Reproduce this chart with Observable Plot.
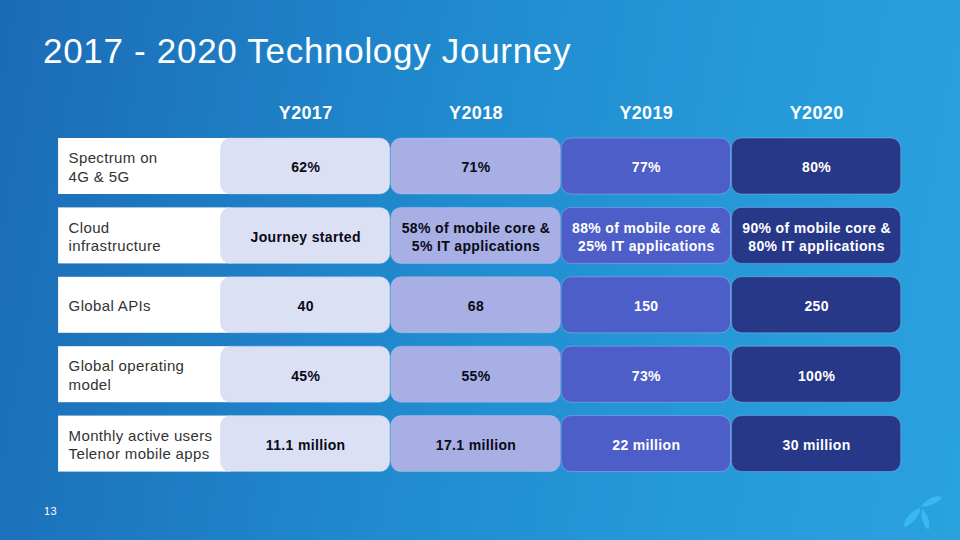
<!DOCTYPE html>
<html>
<head>
<meta charset="utf-8">
<script src="https://cdn.jsdelivr.net/npm/d3@7"></script>
<script src="https://cdn.jsdelivr.net/npm/@observablehq/plot@0.6"></script>
<style>
  html, body { margin: 0; padding: 0; }
  body { width: 960px; height: 540px; overflow: hidden; font-family: "Liberation Sans", Arial, sans-serif; }
  #page { position: relative; width: 960px; height: 540px;
    background: linear-gradient(100deg, #1b6bb5 0%, #208bcf 45%, #269ad9 75%, #2aa2de 100%); }
  #title { height: 92px; margin: 0; padding: 0; position: relative; }
  #title h1 { position: absolute; left: 43px; top: 31px; margin: 0; font-weight: normal;
    font-size: 35px; color: #ffffff; font-family: "Liberation Sans", Arial, sans-serif; letter-spacing: 0.7px; }
  #chart svg { display: block; }
  #chart svg text { letter-spacing: 0.35px; }
  #logo { position: absolute; left: 898px; top: 486px; }
</style>
</head>
<body>
<div id="page">
  <div id="title"><h1>2017 - 2020 Technology Journey</h1></div>
  <div id="chart"></div>
  <svg id="logo" width="48" height="48" viewBox="0 0 44 44">
    <path d="M6 38 C4 33 10 24 20 20 C22 24 14 34 6 38 Z" fill="#3ab8f2"/>
    <path d="M21 19 C26 12 35 8 40 10 C39 14 30 19 21 19 Z" fill="#3ab8f2"/>
    <path d="M22 21 C27 25 30 34 28 40 C24 38 20 28 22 21 Z" fill="#3ab8f2"/>
  </svg>
</div>
<script>
const years = ["Y2017", "Y2018", "Y2019", "Y2020"];
const rowLabels = [
  "Spectrum on\n4G & 5G",
  "Cloud\ninfrastructure",
  "Global APIs",
  "Global operating\nmodel",
  "Monthly active users\nTelenor mobile apps"
];
const spectrum = ["62%", "71%", "77%", "80%"];
const cloud = ["Journey started", "58% of mobile core &\n5% IT applications", "88% of mobile core &\n25% IT applications", "90% of mobile core &\n80% IT applications"];
const apis = ["40", "68", "150", "250"];
const operatingModel = ["45%", "55%", "73%", "100%"];
const activeUsers = ["11.1 million", "17.1 million", "22 million", "30 million"];
const pageNumber = "13";

const yearFill = ["#dce0f4", "#a7afe4", "#4d5ec8", "#273889"];
const yearText = ["#0a0a14", "#0a0a14", "#ffffff", "#ffffff"];
const rowsValues = [spectrum, cloud, apis, operatingModel, activeUsers];

const cells = [];
rowsValues.forEach((vals, r) => vals.forEach((v, c) => cells.push({row: r, col: c, value: v})));
const labels = rowLabels.map((l, r) => ({row: r, label: l}));
const headers = years.map((y, c) => ({col: c, year: y}));

const H = 0.807; // cell height in row units
const chart = Plot.plot({
  width: 960,
  height: 448,
  margin: 0,
  style: {background: "transparent", fontFamily: "'Liberation Sans', Arial, sans-serif", overflow: "visible"},
  x: {domain: [-1.292, 4.345], axis: null},
  y: {domain: [-0.663, 5.793], reverse: true, axis: null},
  marks: [
    Plot.rect(labels, {x1: -0.951, x2: 0.06, y1: d => d.row, y2: d => d.row + H, fill: "#ffffff"}),
    Plot.rect(cells, {x1: d => d.col, x2: d => d.col + 1, y1: d => d.row, y2: d => d.row + H,
      fill: d => yearFill[d.col], rx: 10, ry: 10, insetLeft: 0.5, insetRight: 0.5,
      stroke: "#c8d0f0", strokeOpacity: 0.35, strokeWidth: 1}),
    Plot.text(labels, {x: -0.892, y: d => d.row + H / 2, text: "label", textAnchor: "start",
      fill: "#333333", fontSize: 15, lineHeight: 1.25}),
    Plot.text(cells, {x: d => d.col + 0.5, y: d => d.row + H / 2, text: "value",
      fill: d => yearText[d.col], fontSize: 14, fontWeight: "bold", lineHeight: 1.3}),
    Plot.text(headers, {x: d => d.col + 0.5, y: -0.36, text: "year", fill: "#ffffff",
      fontSize: 18, fontWeight: "bold"}),
    Plot.text([pageNumber], {x: -0.998, y: 5.375, text: d => d, fill: "#ffffff", fontSize: 11})
  ]
});
document.getElementById("chart").appendChild(chart);
</script>
</body>
</html>
